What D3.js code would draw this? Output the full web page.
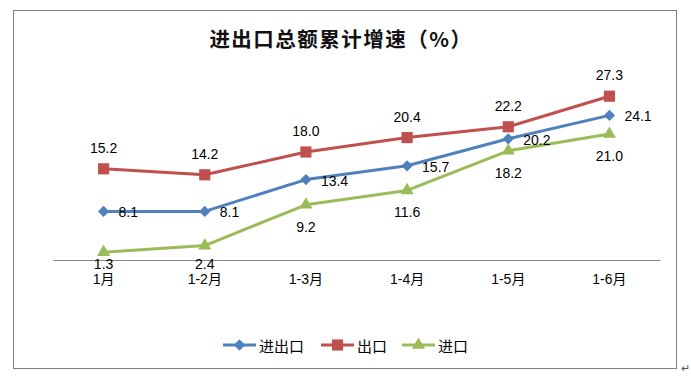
<!DOCTYPE html>
<html><head><meta charset="utf-8">
<script src="https://cdn.jsdelivr.net/npm/d3@7"></script>
<style>
html,body{margin:0;padding:0;background:#fff;}
svg{display:block;}
text{font-family:"Liberation Sans","Noto Sans CJK SC",sans-serif;}
</style></head><body>
<script>
const categories = ["1月","1-2月","1-3月","1-4月","1-5月","1-6月"];
const totalTrade = [8.1, 8.1, 13.4, 15.7, 20.2, 24.1];
const exportsData = [15.2, 14.2, 18.0, 20.4, 22.2, 27.3];
const importsData = [1.3, 2.4, 9.2, 11.6, 18.2, 21.0];
const seriesNames = ["进出口","出口","进口"];
const colors = ["#4F81BD","#C0504D","#9BBB59"];
const titleText = "进出口总额累计增速（%）";

const W = 691, H = 380;
const svg = d3.select("body").append("svg").attr("width", W).attr("height", H);

// outer frame
svg.append("rect").attr("x",13.5).attr("y",10.5).attr("width",663).attr("height",358)
  .attr("fill","none").attr("stroke","#808080").attr("stroke-width",1);
svg.append("text").attr("x",681).attr("y",372).attr("font-size",11).attr("fill","#555").text("↵");

// title
svg.append("text").attr("x",341).attr("y",38).attr("text-anchor","middle")
  .attr("dominant-baseline","central")
  .style("font-family",'"Noto Sans CJK SC",sans-serif')
  .style("letter-spacing","1.5px")
  .attr("font-size",20.5).attr("font-weight","bold").attr("fill","#111").text(titleText);

const x = d3.scaleBand().domain(categories).range([53,660]);
const y = d3.scaleLinear().domain([0,30]).range([260,80]);
const cx = d => x(d) + x.bandwidth()/2;

// category axis
const axis = d3.axisBottom(x).tickSize(0).tickPadding(14);
const gA = svg.append("g").attr("transform","translate(0,260)").call(axis);
gA.select(".domain").attr("stroke","#868686").attr("stroke-width",1.2);
gA.selectAll("text").attr("font-size",14).attr("fill","#000")
  .style("font-family",'"Liberation Sans","Noto Sans CJK SC",sans-serif');

const series = [
  {name: seriesNames[0], values: totalTrade, color: colors[0], marker: "diamond"},
  {name: seriesNames[1], values: exportsData, color: colors[1], marker: "square"},
  {name: seriesNames[2], values: importsData, color: colors[2], marker: "triangle"}
];

const markerPath = m => m==="square" ? d3.symbol().type(d3.symbolSquare).size(125)()
  : m==="diamond" ? d3.symbol().type(d3.symbolSquare).size(64)()
  : d3.symbol().type(d3.symbolTriangle).size(75)();
const markerRot = m => m==="diamond" ? " rotate(45)" : "";

const line = d3.line().x((d,i)=>cx(categories[i])).y(d=>y(d));

// draw order: imports, total, exports
[series[2], series[0], series[1]].forEach(s => {
  svg.append("path").datum(s.values).attr("d", line)
    .attr("fill","none").attr("stroke", s.color).attr("stroke-width",3)
    .attr("stroke-linejoin","round");
  svg.selectAll(null).data(s.values).enter().append("path")
    .attr("d", markerPath(s.marker))
    .attr("transform",(d,i)=>`translate(${cx(categories[i])},${y(d)})${markerRot(s.marker)}`)
    .attr("fill", s.color);
});

// data labels
const labelG = svg.append("g").attr("font-size",14).attr("fill","#000");
series.forEach((s, si) => {
  labelG.selectAll(null).data(s.values).enter().append("text")
    .attr("x",(d,i)=> si===0 ? cx(categories[i]) + 15 : cx(categories[i]))
    .attr("y",(d)=> si===0 ? y(d)+1 : si===1 ? y(d)-21 : Math.min(y(d)+22, 264))
    .attr("text-anchor", si===0 ? "start" : "middle")
    .attr("dominant-baseline","central")
    .text(d => d.toFixed(1));
});

// legend
const legendX = [223, 321, 402];
const lg = svg.append("g");
series.forEach((s, i) => {
  const g = lg.append("g").attr("transform",`translate(${legendX[i]},345)`);
  g.append("line").attr("x1",0).attr("x2",33).attr("y1",0).attr("y2",0)
    .attr("stroke", s.color).attr("stroke-width",3);
  g.append("path").attr("d", markerPath(s.marker))
    .attr("transform",`translate(16.5,0)${markerRot(s.marker)}`).attr("fill", s.color);
  g.append("text").attr("x",36).attr("y",0).attr("dominant-baseline","central")
    .attr("font-size",15).attr("fill","#000")
    .style("font-family",'"Noto Sans CJK SC",sans-serif').text(s.name);
});
</script>
</body></html>
